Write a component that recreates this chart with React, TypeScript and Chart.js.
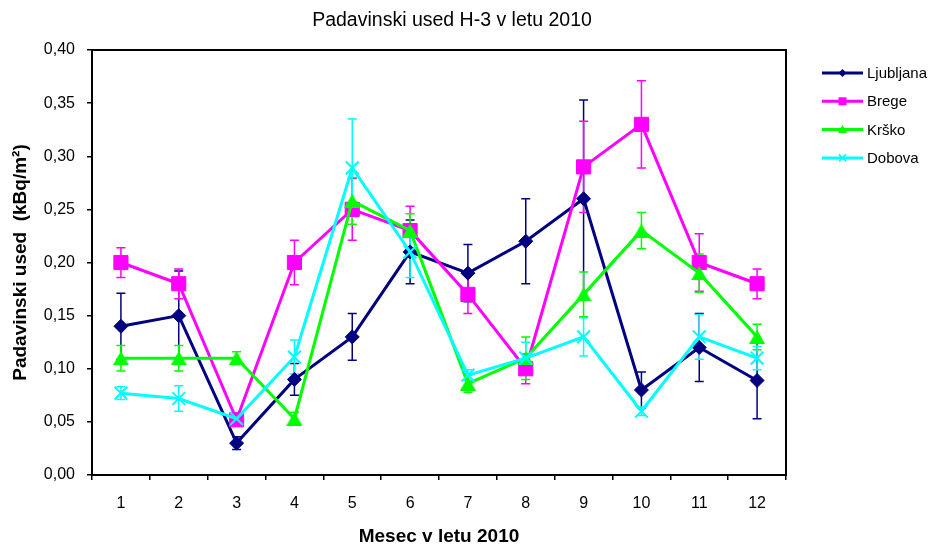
import React, { useEffect, useRef } from 'react';
import { Chart, registerables } from 'chart.js';

Chart.register(...registerables);

const months = ['1', '2', '3', '4', '5', '6', '7', '8', '9', '10', '11', '12'];
const yTickLabels = ['0,00', '0,05', '0,10', '0,15', '0,20', '0,25', '0,30', '0,35', '0,40'];
const seriesNames = ['Ljubljana', 'Brege', 'Krško', 'Dobova'];

const ljubljana = [0.14, 0.15, 0.03, 0.09, 0.13, 0.21, 0.19, 0.22, 0.26, 0.08, 0.12, 0.089];
const ljubljanaErr = [0.031, 0.042, 0.006, 0.015, 0.022, 0.03, 0.027, 0.04, 0.093, 0.017, 0.032, 0.036];
const brege = [0.2, 0.18, 0.052, 0.2, 0.25, 0.23, 0.17, 0.1, 0.29, 0.33, 0.2, 0.18];
const bregeErr = [0.014, 0.014, 0.005, 0.021, 0.029, 0.023, 0.018, 0.014, 0.043, 0.041, 0.027, 0.014];
const krsko = [0.11, 0.11, 0.11, 0.053, 0.258, 0.23, 0.086, 0.11, 0.17, 0.23, 0.19, 0.13];
const krskoErr = [0.012, 0.012, 0.006, 0.006, 0.022, 0.016, 0.008, 0.02, 0.021, 0.017, 0.018, 0.012];
const dobova = [0.077, 0.072, 0.053, 0.111, 0.289, 0.21, 0.094, 0.11, 0.13, 0.06, 0.13, 0.11];
const dobovaErr = [0.006, 0.012, 0.003, 0.016, 0.046, 0.024, 0.005, 0.015, 0.018, 0.004, 0.021, 0.011];

const colors = ['#000080', '#FF00FF', '#00FF00', '#00FFFF'];
const pointStyles = ['rectRot', 'rect', 'triangle', 'crossRot'];
const pointRadii = [7, 10, 9, 9];
const seriesValues = [ljubljana, brege, krsko, dobova];
const seriesErrors = [ljubljanaErr, bregeErr, krskoErr, dobovaErr];

const FONT = '"Liberation Sans", Arial, sans-serif';

function makeTriangle(color: string): HTMLCanvasElement {
  const c = document.createElement('canvas');
  c.width = 16;
  c.height = 14;
  const g = c.getContext('2d') as CanvasRenderingContext2D;
  g.fillStyle = color;
  g.beginPath();
  g.moveTo(8, 0);
  g.lineTo(16, 14);
  g.lineTo(0, 14);
  g.closePath();
  g.fill();
  return c;
}

function drawMarker(ctx: CanvasRenderingContext2D, style: string, x: number, y: number, color: string) {
  ctx.save();
  ctx.fillStyle = color;
  ctx.strokeStyle = color;
  ctx.lineWidth = 1.5;
  ctx.beginPath();
  if (style === 'rectRot') {
    const r = 4;
    ctx.moveTo(x - r, y);
    ctx.lineTo(x, y - r);
    ctx.lineTo(x + r, y);
    ctx.lineTo(x, y + r);
    ctx.closePath();
    ctx.fill();
  } else if (style === 'rect') {
    ctx.rect(x - 4, y - 4, 8, 8);
    ctx.fill();
  } else if (style === 'triangle') {
    ctx.moveTo(x, y - 4.5);
    ctx.lineTo(x + 4.5, y + 3.5);
    ctx.lineTo(x - 4.5, y + 3.5);
    ctx.closePath();
    ctx.fill();
  } else {
    const r = 3.5;
    ctx.moveTo(x - r, y - r);
    ctx.lineTo(x + r, y + r);
    ctx.moveTo(x + r, y - r);
    ctx.lineTo(x - r, y + r);
    ctx.stroke();
  }
  ctx.restore();
}

const decorPlugin = {
  id: 'decor',
  beforeDatasetsDraw(chart: any) {
    const ctx = chart.ctx;
    const yScale = chart.scales.y;
    ctx.save();
    ctx.lineWidth = 1.5;
    chart.data.datasets.forEach((ds: any, i: number) => {
      const meta = chart.getDatasetMeta(i);
      const errs = seriesErrors[i];
      ctx.strokeStyle = colors[i];
      meta.data.forEach((pt: any, j: number) => {
        const v = ds.data[j];
        const e = errs[j];
        const x = pt.x;
        const yTop = yScale.getPixelForValue(v + e);
        const yBot = yScale.getPixelForValue(v - e);
        ctx.beginPath();
        ctx.moveTo(x, yTop);
        ctx.lineTo(x, yBot);
        ctx.moveTo(x - 4.5, yTop);
        ctx.lineTo(x + 4.5, yTop);
        ctx.moveTo(x - 4.5, yBot);
        ctx.lineTo(x + 4.5, yBot);
        ctx.stroke();
      });
    });
    ctx.restore();
  },
  afterDraw(chart: any) {
    const ctx = chart.ctx;
    const a = chart.chartArea;
    ctx.save();
    ctx.strokeStyle = '#000';
    ctx.lineWidth = 2;
    ctx.strokeRect(a.left, a.top, a.right - a.left, a.bottom - a.top);
    ctx.fillStyle = '#000';
    ctx.font = `19.5px ${FONT}`;
    ctx.textAlign = 'center';
    ctx.textBaseline = 'middle';
    ctx.fillText('Padavinski used H-3 v letu 2010', 452, 21);
    ctx.font = `15px ${FONT}`;
    ctx.textAlign = 'left';
    const legendTop = 73;
    const legendStep = 28.3;
    seriesNames.forEach((name, i) => {
      const y = legendTop + i * legendStep;
      ctx.strokeStyle = colors[i];
      ctx.lineWidth = 3;
      ctx.beginPath();
      ctx.moveTo(822, y);
      ctx.lineTo(863, y);
      ctx.stroke();
      drawMarker(ctx, pointStyles[i], 842.5, y, colors[i]);
      ctx.fillStyle = '#000';
      ctx.fillText(name, 867, y + 1);
    });
    ctx.restore();
  },
};

export default function App() {
  const ref = useRef<HTMLCanvasElement | null>(null);

  useEffect(() => {
    document.body.style.margin = '0';
    const canvas = ref.current;
    if (!canvas) return;
    const datasets = seriesNames.map((name, i) => ({
      label: name,
      data: seriesValues[i],
      borderColor: colors[i],
      backgroundColor: colors[i],
      borderWidth: 3,
      pointStyle: (pointStyles[i] === 'triangle' ? makeTriangle(colors[i]) : pointStyles[i]) as any,
      pointRadius: pointRadii[i],
      pointHoverRadius: pointRadii[i],
      pointBackgroundColor: colors[i],
      pointBorderColor: colors[i],
      pointBorderWidth: i === 3 ? 2 : 1,
      tension: 0,
      order: 3 - i,
    }));
    const chart = new Chart(canvas, {
      type: 'line',
      data: { labels: months, datasets },
      plugins: [decorPlugin],
      options: {
        responsive: false,
        animation: false,
        events: [],
        layout: { padding: { top: 50, right: 150, left: 0, bottom: 0 } },
        plugins: {
          legend: { display: false },
          title: { display: false },
          tooltip: { enabled: false },
        },
        scales: {
          x: {
            type: 'category',
            offset: true,
            afterFit: (s: any) => { s.height = 73; },
            grid: {
              offset: true,
              drawOnChartArea: false,
              drawTicks: true,
              tickLength: 5,
              color: '#000',
              lineWidth: 1.5,
            },
            border: { display: false },
            ticks: {
              color: '#000',
              padding: 14,
              font: { family: FONT, size: 16 },
              maxRotation: 0,
            },
            title: {
              display: true,
              text: 'Mesec v letu 2010',
              color: '#000',
              font: { family: FONT, size: 19, weight: 'bold' },
              padding: { top: 0, bottom: 0 },
            },
          },
          y: {
            min: 0,
            max: 0.4,
            afterFit: (s: any) => { s.width = 92; },
            grid: {
              drawOnChartArea: false,
              drawTicks: true,
              tickLength: 5,
              color: '#000',
              lineWidth: 1.5,
            },
            border: { display: false },
            ticks: {
              stepSize: 0.05,
              color: '#000',
              padding: 12,
              font: { family: FONT, size: 16 },
              callback: (_v: any, idx: number) => yTickLabels[idx],
            },
            title: {
              display: true,
              text: 'Padavinski used  (kBq/m²)',
              color: '#000',
              font: { family: FONT, size: 19, weight: 'bold' },
              padding: { top: 9, bottom: 0 },
            },
          },
        },
      },
    });
    return () => chart.destroy();
  }, []);

  return (
    <div style={{ position: 'absolute', left: 0, top: 0, width: 936, height: 548, background: '#fff' }}>
      <canvas ref={ref} width={936} height={548} style={{ width: 936, height: 548 }} />
    </div>
  );
}
